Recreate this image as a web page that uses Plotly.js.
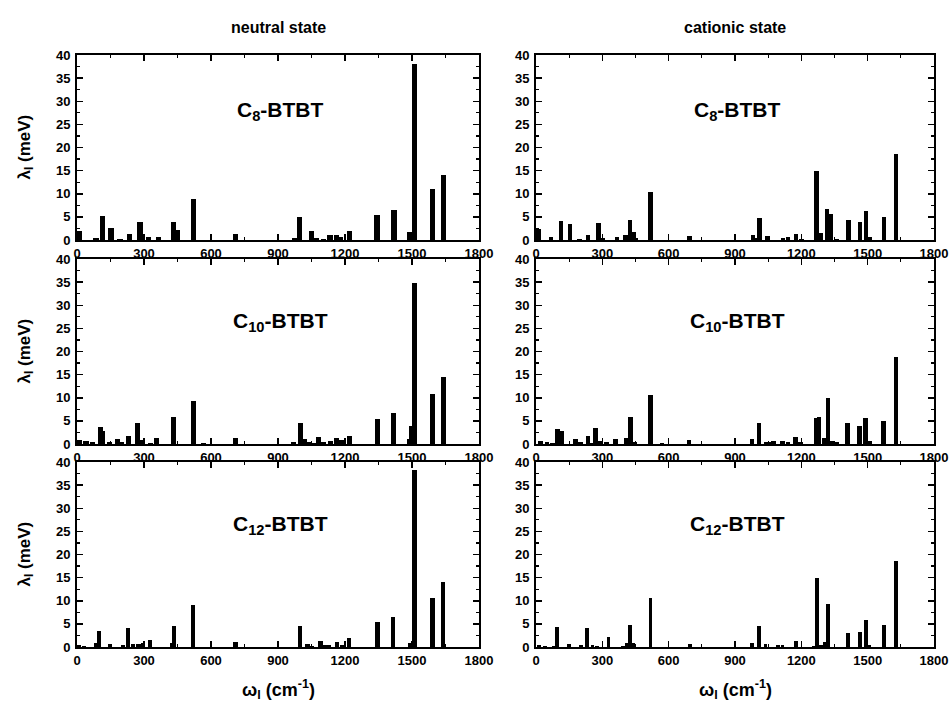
<!DOCTYPE html>
<html>
<head>
<meta charset="utf-8">
<script src="https://cdn.plot.ly/plotly-3.0.1.min.js"></script>
<style>html,body{margin:0;padding:0;background:#fff;}#chart{width:952px;height:708px;}</style>
</head>
<body>
<div id="chart"></div>
<script>
// ---- data (frequency in cm^-1, reorganization energy in meV) ----
const neutral_C8_freq = [12, 85, 114, 152, 192, 236, 282, 320, 366, 433, 447, 522, 709, 975, 997, 1051, 1070, 1105, 1133, 1163, 1180, 1221, 1344, 1419, 1490, 1511, 1592, 1640];
const neutral_C8_lambda = [2.0, 0.5, 5.1, 2.7, 0.3, 1.2, 4.0, 0.7, 0.65, 3.8, 2.2, 8.9, 1.3, 0.5, 4.9, 1.95, 0.4, 0.2, 1.0, 1.0, 0.7, 1.95, 5.5, 6.4, 1.7, 38.1, 11.0, 14.05];

const neutral_C10_freq = [10, 40, 70, 106, 115, 145, 180, 200, 230, 270, 295, 330, 357, 433, 522, 565, 711, 970, 1000, 1020, 1040, 1060, 1080, 1105, 1135, 1163, 1183, 1220, 1346, 1418, 1490, 1500, 1511, 1592, 1640];
const neutral_C10_lambda = [0.9, 0.55, 0.35, 3.75, 2.9, 0.4, 1.0, 0.4, 1.8, 4.6, 0.8, 0.3, 1.3, 5.9, 9.25, 0.3, 1.3, 0.35, 4.55, 1.1, 0.35, 0.3, 1.5, 0.5, 0.65, 1.2, 0.85, 1.65, 5.4, 6.7, 1.1, 4.0, 34.8, 10.9, 14.4];

const neutral_C12_freq = [10, 30, 85, 99, 147, 205, 230, 250, 275, 295, 327, 425, 435, 520, 710, 999, 1032, 1050, 1090, 1108, 1130, 1164, 1185, 1219, 1346, 1416, 1490, 1511, 1592, 1640];
const neutral_C12_lambda = [0.5, 0.3, 0.8, 3.4, 0.6, 0.4, 4.2, 0.6, 0.6, 0.8, 1.45, 0.8, 4.5, 9.1, 1.0, 4.5, 0.7, 0.3, 1.3, 0.4, 0.35, 1.0, 0.5, 1.9, 5.4, 6.5, 0.8, 38.2, 10.6, 14.1];

const cationic_C8_freq = [12, 67, 112, 155, 196, 235, 283, 300, 366, 405, 426, 440, 450, 517, 694, 981, 995, 1010, 1047, 1118, 1140, 1176, 1200, 1269, 1290, 1317, 1333, 1360, 1413, 1464, 1492, 1508, 1574, 1629];
const cationic_C8_lambda = [2.45, 0.7, 4.1, 3.4, 0.2, 1.15, 3.75, 0.4, 0.65, 1.15, 4.3, 1.65, 0.35, 10.4, 0.8, 1.1, 0.4, 4.7, 0.8, 0.45, 0.65, 1.3, 0.2, 14.9, 1.45, 6.6, 5.7, 0.3, 4.3, 3.9, 6.3, 0.7, 5.0, 18.6];

const cationic_C10_freq = [20, 50, 75, 97, 117, 179, 200, 235, 250, 270, 290, 320, 360, 407, 427, 445, 517, 570, 692, 977, 1008, 1040, 1055, 1073, 1115, 1140, 1173, 1195, 1266, 1280, 1305, 1320, 1340, 1360, 1410, 1463, 1491, 1507, 1572, 1628];
const cationic_C10_lambda = [0.65, 0.45, 0.3, 3.25, 2.9, 1.1, 0.45, 1.7, 0.3, 3.4, 0.6, 0.5, 1.1, 1.3, 5.85, 0.5, 10.6, 0.3, 0.85, 1.0, 4.55, 0.35, 0.5, 0.65, 0.6, 0.45, 1.45, 0.4, 5.7, 5.9, 1.3, 9.9, 0.6, 0.4, 4.55, 3.8, 5.55, 0.65, 5.0, 18.9];

const cationic_C12_freq = [15, 40, 80, 96, 150, 205, 232, 255, 275, 328, 395, 410, 426, 440, 518, 695, 978, 1008, 1038, 1094, 1115, 1175, 1255, 1271, 1290, 1305, 1321, 1412, 1466, 1491, 1505, 1574, 1628];
const cationic_C12_lambda = [0.45, 0.25, 0.25, 4.35, 0.7, 0.35, 4.05, 0.35, 0.25, 2.1, 0.3, 0.8, 4.85, 0.95, 10.55, 0.7, 0.8, 4.6, 0.6, 0.5, 0.35, 1.2, 0.3, 14.9, 0.35, 1.15, 9.2, 3.0, 3.2, 5.85, 0.5, 4.7, 18.6];

const molecule_labels = ['C<sub>8</sub>-BTBT', 'C<sub>10</sub>-BTBT', 'C<sub>12</sub>-BTBT'];
const column_titles = ['neutral state', 'cationic state'];
const x_ticks = [0, 300, 600, 900, 1200, 1500, 1800];
const y_ticks = [0, 5, 10, 15, 20, 25, 30, 35, 40];

// ---- layout geometry ----
const W = 952, H = 708;
const colPx = [[77, 479], [536, 934]];
const rowPx = [[55, 240], [259, 444], [462, 647]];
const labelY = [27.8, 26.3, 26.3];
const FONT = 'Liberation Sans, Arial, Helvetica, sans-serif';

const panels = [
  {x: neutral_C8_freq,  y: neutral_C8_lambda,  r: 0, c: 0, w: 24},
  {x: cationic_C8_freq, y: cationic_C8_lambda, r: 0, c: 1, w: 20},
  {x: neutral_C10_freq, y: neutral_C10_lambda, r: 1, c: 0, w: 23},
  {x: cationic_C10_freq,y: cationic_C10_lambda,r: 1, c: 1, w: 21},
  {x: neutral_C12_freq, y: neutral_C12_lambda, r: 2, c: 0, w: 19},
  {x: cationic_C12_freq,y: cationic_C12_lambda,r: 2, c: 1, w: 17}
];

const traces = [];
const layout = {
  width: W, height: H,
  margin: {l: 0, r: 0, t: 0, b: 0},
  paper_bgcolor: '#fff', plot_bgcolor: '#fff',
  showlegend: false,
  bargap: 0,
  annotations: [],
  font: {family: FONT, size: 13, color: '#000'}
};

const tickfont = {family: FONT, size: 13, weight: 'bold', color: '#000'};

panels.forEach((p, i) => {
  const n = i + 1;
  const xa = n === 1 ? 'x' : 'x' + n;
  const ya = n === 1 ? 'y' : 'y' + n;
  traces.push({
    type: 'bar', x: p.x, y: p.y, xaxis: xa, yaxis: ya,
    width: p.x.map(() => p.w),
    marker: {color: '#000', line: {width: 0}},
    hoverinfo: 'x+y'
  });
  const cx = colPx[p.c], ry = rowPx[p.r];
  layout['xaxis' + (n === 1 ? '' : n)] = {
    domain: [cx[0] / W, cx[1] / W], anchor: ya,
    range: [0, 1800], tickmode: 'array', tickvals: x_ticks,
    ticks: 'inside', ticklen: 6, tickwidth: 1.5, tickcolor: '#000',
    minor: {ticks: 'inside', ticklen: 3, tickwidth: 1.2, tickcolor: '#000', tickvals: [150, 450, 750, 1050, 1350, 1650]},
    showline: true, linewidth: 2, linecolor: '#000', mirror: 'ticks',
    showgrid: false, zeroline: false, tickfont: tickfont, fixedrange: true
  };
  layout['yaxis' + (n === 1 ? '' : n)] = {
    domain: [1 - ry[1] / H, 1 - ry[0] / H], anchor: xa,
    range: [0, 40], tickmode: 'array', tickvals: y_ticks,
    ticks: 'inside', ticklen: 6, tickwidth: 1.5, tickcolor: '#000',
    minor: {ticks: 'inside', ticklen: 3, tickwidth: 1.2, tickcolor: '#000', tickvals: [2.5, 7.5, 12.5, 17.5, 22.5, 27.5, 32.5, 37.5]},
    showline: true, linewidth: 2, linecolor: '#000', mirror: 'ticks',
    showgrid: false, zeroline: false, tickfont: tickfont, fixedrange: true,
    ticklabelstandoff: 2
  };
  // molecule label inside panel
  layout.annotations.push({
    xref: xa, yref: ya, x: 910, y: labelY[p.r], xanchor: 'center', yanchor: 'middle',
    text: molecule_labels[p.r], showarrow: false,
    font: {family: FONT, size: 21, weight: 'bold', color: '#000'}
  });
  // y-axis title for left column
  if (p.c === 0) {
    layout.annotations.push({
      xref: 'paper', yref: 'paper', x: 25 / W, y: 1 - (ry[0] + ry[1]) / 2 / H,
      xanchor: 'center', yanchor: 'middle', textangle: -90,
      text: 'λ<sub>l</sub> (meV)', showarrow: false,
      font: {family: FONT, size: 17, weight: 'bold', color: '#000'}
    });
  }
});

// column titles and x-axis titles
column_titles.forEach((t, c) => {
  layout.annotations.push({
    xref: 'paper', yref: 'paper', x: (colPx[c][0] + colPx[c][1]) / 2 / W, y: 1 - 28 / H,
    xanchor: 'center', yanchor: 'middle', text: t, showarrow: false,
    font: {family: FONT, size: 16, weight: 'bold', color: '#000'}
  });
  layout.annotations.push({
    xref: 'paper', yref: 'paper', x: (colPx[c][0] + colPx[c][1]) / 2 / W, y: 1 - 689 / H,
    xanchor: 'center', yanchor: 'middle', text: 'ω<sub>l</sub> (cm<sup>-1</sup>)', showarrow: false,
    font: {family: FONT, size: 18, weight: 'bold', color: '#000'}
  });
});

Plotly.newPlot('chart', traces, layout, {displayModeBar: false, staticPlot: true});
</script>
</body>
</html>
